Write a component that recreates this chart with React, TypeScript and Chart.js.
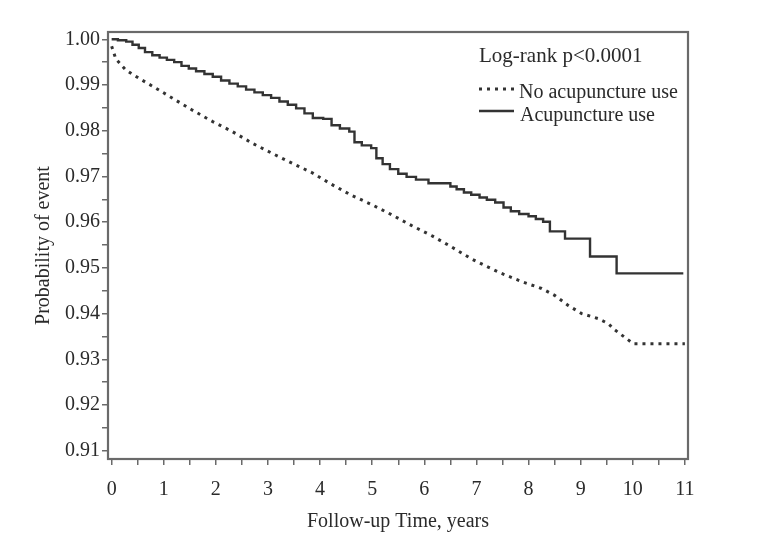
import React, { useEffect, useRef } from "react";
import { Chart, registerables } from "chart.js";

Chart.register(...registerables);

const acuTime = [0, 0.12, 0.28, 0.4, 0.52, 0.64, 0.78, 0.92, 1.06, 1.2, 1.34, 1.48, 1.62, 1.78, 1.94, 2.1, 2.26, 2.42, 2.58, 2.74, 2.9, 3.06, 3.22, 3.38, 3.54, 3.7, 3.86, 4.06, 4.22, 4.38, 4.56, 4.66, 4.8, 4.98, 5.08, 5.2, 5.34, 5.5, 5.66, 5.84, 6.08, 6.5, 6.62, 6.76, 6.9, 7.06, 7.2, 7.36, 7.52, 7.66, 7.82, 8.0, 8.14, 8.28, 8.41, 8.7, 9.18, 9.69, 10.97];
const acuSurv = [1.0, 0.9998, 0.9995, 0.9988, 0.9981, 0.9972, 0.9965, 0.996, 0.9955, 0.995, 0.9942, 0.9936, 0.993, 0.9924, 0.9918, 0.991, 0.9903, 0.9897, 0.989, 0.9884, 0.9878, 0.9872, 0.9864, 0.9857, 0.9849, 0.9838, 0.9828, 0.9826, 0.9812, 0.9805, 0.9798, 0.9775, 0.9768, 0.9762, 0.974, 0.9727, 0.9716, 0.9706, 0.9699, 0.9693, 0.9685, 0.9678, 0.9672, 0.9665, 0.966, 0.9654, 0.9649, 0.9643, 0.9632, 0.9624, 0.9618, 0.9613, 0.9607, 0.9601, 0.958, 0.9564, 0.9525, 0.9488, 0.9488];

const noAcuTime = [0, 0.08, 0.27, 0.52, 0.85, 1.17, 1.55, 1.94, 2.32, 2.71, 3.09, 3.48, 3.85, 4.2, 4.6, 5.0, 5.36, 5.75, 6.15, 6.52, 6.9, 7.2, 7.48, 7.87, 8.25, 8.5, 8.76, 9.02, 9.34, 9.53, 9.66, 9.92, 10.01, 11.0];
const noAcuSurv = [0.9985, 0.9957, 0.9933, 0.9915, 0.9893, 0.9871, 0.9845, 0.982, 0.9798, 0.9772, 0.975, 0.9728, 0.9708, 0.9684, 0.9659, 0.9638, 0.9617, 0.9593, 0.957, 0.9546, 0.952, 0.9503, 0.9488, 0.947, 0.9455, 0.944, 0.9418, 0.94, 0.9389, 0.9378, 0.9364, 0.9342, 0.9334, 0.9334];

const xMajorTicks = [0, 1, 2, 3, 4, 5, 6, 7, 8, 9, 10, 11];
const xTickLabels = ["0", "1", "2", "3", "4", "5", "6", "7", "8", "9", "10", "11"];
const xMinorTicks = [0.5, 1.5, 2.5, 3.5, 4.5, 5.5, 6.5, 7.5, 8.5, 9.5, 10.5];

const yMajorTicks = [0.91, 0.92, 0.93, 0.94, 0.95, 0.96, 0.97, 0.98, 0.99, 1.0];
const yTickLabels = ["0.91", "0.92", "0.93", "0.94", "0.95", "0.96", "0.97", "0.98", "0.99", "1.00"];
const yMinorTicks = [0.915, 0.925, 0.935, 0.945, 0.955, 0.965, 0.975, 0.985, 0.995];

const seriesLabels = ["No acupuncture use", "Acupuncture use"];
const statText = "Log-rank p<0.0001";
const xTitle = "Follow-up Time, years";
const yTitle = "Probability of event";

const FONT = "'Liberation Serif', 'Times New Roman', serif";
const INK = "#2a2a2a";
const LINE = "#333333";
const FRAME = "#6a6a6a";

const findLabel = (v: number, majors: number[], labels: string[]) => {
  const i = majors.findIndex((m) => Math.abs(m - v) < 1e-9);
  return i >= 0 ? labels[i] : "";
};

const overlayPlugin = {
  id: "overlay",
  afterDraw(chart: any) {
    const { ctx, chartArea } = chart;
    ctx.save();
    ctx.strokeStyle = FRAME;
    ctx.lineWidth = 2.2;
    ctx.strokeRect(chartArea.left, chartArea.top, chartArea.right - chartArea.left, chartArea.bottom - chartArea.top);

    ctx.fillStyle = INK;
    ctx.textBaseline = "alphabetic";
    ctx.textAlign = "left";
    ctx.font = `21px ${FONT}`;
    ctx.fillText(statText, 479, 62);

    ctx.font = `20px ${FONT}`;
    ctx.strokeStyle = LINE;
    ctx.lineWidth = 3;
    ctx.setLineDash([3, 5]);
    ctx.beginPath();
    ctx.moveTo(479, 89);
    ctx.lineTo(514, 89);
    ctx.stroke();
    ctx.setLineDash([]);
    ctx.fillText(seriesLabels[0], 519, 98);

    ctx.lineWidth = 2.4;
    ctx.beginPath();
    ctx.moveTo(479, 111);
    ctx.lineTo(514, 111);
    ctx.stroke();
    ctx.fillText(seriesLabels[1], 520, 121);
    ctx.restore();
  },
};

export default function App() {
  const ref = useRef<HTMLCanvasElement | null>(null);

  useEffect(() => {
    if (!ref.current) return;
    const chart = new Chart(ref.current, {
      type: "line",
      data: {
        datasets: [
          {
            label: seriesLabels[0],
            data: noAcuTime.map((t, i) => ({ x: t, y: noAcuSurv[i] })),
            borderColor: LINE,
            borderWidth: 3,
            borderDash: [3, 5],
            pointRadius: 0,
            tension: 0,
            fill: false,
          },
          {
            label: seriesLabels[1],
            data: acuTime.map((t, i) => ({ x: t, y: acuSurv[i] })),
            borderColor: LINE,
            borderWidth: 2.4,
            pointRadius: 0,
            stepped: "before",
            fill: false,
          },
        ],
      },
      options: {
        animation: false,
        responsive: false,
        devicePixelRatio: 1,
        layout: { padding: { left: 26, right: 89, top: 32, bottom: 12 } },
        plugins: {
          legend: { display: false },
          tooltip: { enabled: false },
        },
        scales: {
          x: {
            type: "linear",
            min: -0.07,
            max: 11.06,
            afterBuildTicks: (scale: any) => {
              scale.ticks = [...xMajorTicks, ...xMinorTicks].sort((a, b) => a - b).map((v) => ({ value: v }));
            },
            afterFit: (scale: any) => {
              scale.height = 550 - 12 - 459;
            },
            border: { display: false },
            grid: { drawOnChartArea: false, drawTicks: true, tickLength: 6, color: FRAME, lineWidth: 1.5 },
            ticks: {
              autoSkip: false,
              maxRotation: 0,
              padding: 13,
              color: INK,
              font: { family: FONT, size: 20 },
              callback: (v: any) => findLabel(Number(v), xMajorTicks, xTickLabels),
            },
            title: { display: true, text: xTitle, color: INK, font: { family: FONT, size: 20 }, padding: { top: 4, bottom: 4 } },
          },
          y: {
            type: "linear",
            min: 0.9082,
            max: 1.0016,
            afterBuildTicks: (scale: any) => {
              scale.ticks = [...yMajorTicks, ...yMinorTicks].sort((a, b) => a - b).map((v) => ({ value: v }));
            },
            afterFit: (scale: any) => {
              scale.width = 108 - 26;
            },
            border: { display: false },
            grid: { drawOnChartArea: false, drawTicks: true, tickLength: 6, color: FRAME, lineWidth: 1.5 },
            ticks: {
              autoSkip: false,
              padding: 2,
              color: INK,
              font: { family: FONT, size: 20 },
              callback: (v: any) => findLabel(Number(v), yMajorTicks, yTickLabels),
            },
            title: { display: true, text: yTitle, color: INK, font: { family: FONT, size: 20 }, padding: { top: 6, bottom: 4 } },
          },
        },
      },
      plugins: [overlayPlugin],
    } as any);
    return () => chart.destroy();
  }, []);

  return (
    <div style={{ position: "absolute", left: 0, top: 0, width: 777, height: 550, background: "#fff" }}>
      <canvas ref={ref} width={777} height={550} style={{ width: 777, height: 550, display: "block" }} />
    </div>
  );
}
